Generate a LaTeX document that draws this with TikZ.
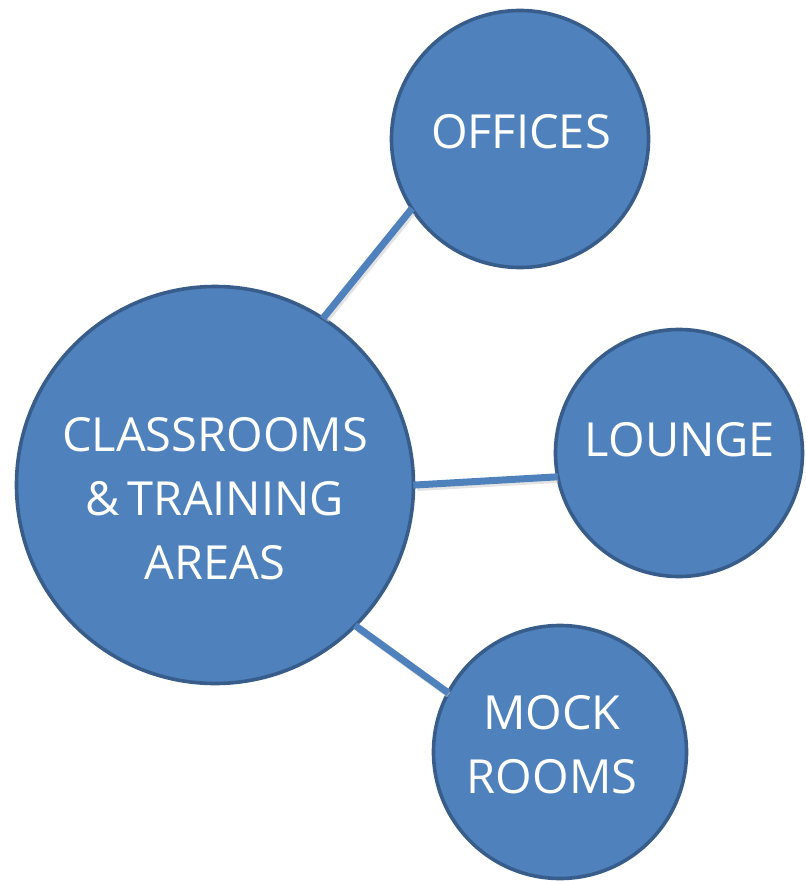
\documentclass[tikz,border=0pt]{standalone}
\usepackage{fontspec}
\setmainfont{Open Sans}
\definecolor{fillblue}{HTML}{4F81BD}
\definecolor{edgeblue}{HTML}{385D8A}
\begin{document}
\begin{tikzpicture}[x=1pt,y=-1pt,
  bubble/.style={circle,fill=fillblue,draw=edgeblue,line width=3.6pt,inner sep=0pt},
  link/.style={draw=fillblue,line width=7pt,shorten <=-2pt,shorten >=-2pt},
  linkshadow/.style={draw=black!18,line width=6pt,opacity=0.6},
  lbl/.style={text=white,font=\fontsize{47}{64}\selectfont,align=center,inner sep=0pt}]
\useasboundingbox (0,0) rectangle (806,881);
\node[bubble,minimum size=397pt] (big) at (215,485) {};
\node[bubble,minimum size=257pt] (off) at (520,139) {};
\node[bubble,minimum size=247pt] (lng) at (679,453) {};
\node[bubble,minimum size=253pt] (mck) at (560,752) {};
% shadows of connectors
\begin{scope}[transform canvas={shift={(2pt,-3pt)}}]
\draw[linkshadow] (big.57.8) -- (off.213);
\draw[linkshadow] (big.-0.3) -- (lng.191.7);
\draw[linkshadow] (big.-45) -- (mck.152.5);
\end{scope}
\draw[link] (big.57.8) -- (off.213);
\draw[link] (big.-0.3) -- (lng.191.7);
\draw[link] (big.-45) -- (mck.152.5);
% labels
\node[lbl] (bigtxt) at (215,499) {CLASSROOMS\\\&\,TRAINING\\AREAS};
\node[lbl] (offtxt) at (521,132) {OFFICES};
\node[lbl] (lngtxt) at (680,440) {LOUNGE};
\node[lbl] (mcktxt) at (552,745) {MOCK\\ROOMS};
\end{tikzpicture}
\end{document}
